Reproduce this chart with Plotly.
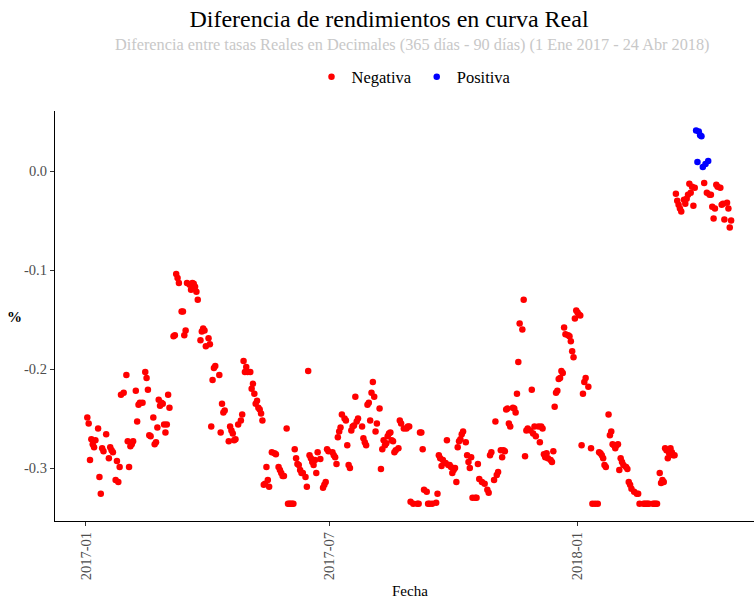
import plotly.graph_objects as go

# ---- data (month, day-of-month, spread in decimals) ----
meses = ["2017-01", "2017-02", "2017-03", "2017-04", "2017-05", "2017-06",
         "2017-07", "2017-08", "2017-09", "2017-10", "2017-11", "2017-12",
         "2018-01", "2018-02", "2018-03", "2018-04"]

dias = [
    [2, 3, 4, 5, 6, 7, 8, 10, 11, 12, 13, 14, 16, 18, 19, 20, 21, 23, 24, 25, 26, 27, 29, 31],
    [1, 2, 3, 4, 5, 7, 8, 9, 10, 12, 14, 15, 16, 17, 18, 20, 21, 22, 23, 24, 25, 26, 27, 28],
    [1, 2, 3, 4, 7, 8, 9, 10, 11, 13, 14, 15, 16, 17, 19, 20, 21, 22, 23, 24, 25, 27, 28, 29, 30, 31],
    [2, 3, 4, 5, 6, 7, 10, 11, 12, 13, 14, 17, 18, 19, 20, 21, 22, 24, 26, 27, 28, 29, 30],
    [1, 3, 4, 5, 6, 7, 8, 9, 10, 11, 12, 13, 14, 15, 16, 17, 19, 21, 22, 24, 25, 26, 27, 28, 30, 31],
    [1, 2, 3, 4, 5, 6, 7, 8, 9, 10, 11, 13, 14, 15, 16, 17, 18, 19, 20, 21, 22, 24, 26, 27, 28, 29, 30],
    [3, 4, 5, 6, 7, 8, 9, 10, 12, 13, 14, 15, 16, 17, 18, 19, 20, 21, 22, 25, 26, 27, 28, 29, 30, 31],
    [1, 2, 3, 4, 5, 7, 8, 9, 10, 11, 12, 13, 14, 15, 16, 17, 18, 19, 21, 22, 23, 25, 27, 28, 29, 30],
    [1, 4, 5, 6, 7, 8, 9, 11, 12, 13, 15, 18, 19, 20, 21, 22, 23, 25, 26, 27, 28, 29, 30],
    [1, 2, 3, 4, 5, 6, 7, 8, 10, 11, 12, 13, 14, 15, 17, 18, 19, 20, 22, 24, 26, 27, 28, 29, 31],
    [1, 2, 3, 5, 6, 7, 8, 9, 10, 11, 12, 14, 15, 16, 17, 18, 19, 21, 22, 23, 24, 25, 27, 28, 29, 30],
    [1, 3, 4, 5, 6, 7, 8, 9, 10, 12, 13, 14, 15, 16, 17, 18, 19, 20, 21, 22, 23, 25, 26, 27, 28, 29, 30, 31],
    [1, 2, 3, 4, 5, 6, 7, 9, 11, 12, 14, 16, 17, 18, 19, 20, 21, 22, 24, 25, 26, 27, 28, 29, 30, 31],
    [1, 2, 3, 4, 6, 7, 8, 9, 10, 12, 14, 15, 16, 19, 20, 21, 22, 23, 26, 27, 28],
    [1, 3, 4, 5, 6, 7, 8, 9, 10, 11, 12, 13, 14, 15, 16, 17, 18, 19, 21, 22, 23, 24, 25, 26, 27, 28, 29, 30, 31],
    [1, 2, 3, 4, 5, 6, 7, 8, 9, 10, 11, 12, 13, 14, 15, 17, 18, 19, 20, 22, 23, 24, 25],
]

valores = [
    [-0.249, -0.255, -0.292, -0.271, -0.276, -0.279, -0.272, -0.260, -0.309, -0.326, -0.280, -0.283,
     -0.266, -0.290, -0.279, -0.282, -0.284, -0.312, -0.293, -0.314, -0.299, -0.226, -0.224, -0.206],
    [-0.273, -0.299, -0.278, -0.276, -0.273, -0.222, -0.253, -0.236, -0.234, -0.234, -0.203, -0.209,
     -0.221, -0.267, -0.268, -0.249, -0.276, -0.274, -0.259, -0.231, -0.237, -0.234, -0.235, -0.256],
    [-0.264, -0.256, -0.226, -0.239, -0.167, -0.166, -0.104, -0.108, -0.113, -0.142, -0.142, -0.166,
     -0.161, -0.113, -0.115, -0.120, -0.113, -0.114, -0.117, -0.122, -0.130, -0.171, -0.162, -0.159,
     -0.161, -0.177],
    [-0.169, -0.175, -0.258, -0.211, -0.199, -0.197, -0.206, -0.264, -0.235, -0.244, -0.242, -0.273,
     -0.258, -0.262, -0.265, -0.272, -0.271, -0.256, -0.252, -0.246, -0.192, -0.203, -0.198],
    [-0.203, -0.203, -0.220, -0.215, -0.225, -0.235, -0.232, -0.239, -0.241, -0.245, -0.252, -0.317,
     -0.316, -0.299, -0.312, -0.319, -0.284, -0.285, -0.286, -0.299, -0.302, -0.305, -0.308, -0.308,
     -0.260, -0.336],
    [-0.336, -0.336, -0.336, -0.336, -0.281, -0.290, -0.296, -0.297, -0.302, -0.305, -0.305, -0.309,
     -0.319, -0.202, -0.287, -0.290, -0.294, -0.297, -0.292, -0.305, -0.284, -0.291, -0.320, -0.317,
     -0.314, -0.281, -0.283],
    [-0.284, -0.287, -0.289, -0.296, -0.269, -0.263, -0.259, -0.246, -0.250, -0.252, -0.277, -0.297,
     -0.300, -0.262, -0.258, -0.257, -0.228, -0.253, -0.250, -0.258, -0.270, -0.274, -0.277, -0.236,
     -0.234, -0.252],
    [-0.224, -0.213, -0.228, -0.263, -0.255, -0.240, -0.301, -0.281, -0.272, -0.277, -0.275, -0.268,
     -0.265, -0.264, -0.272, -0.273, -0.284, -0.282, -0.280, -0.252, -0.255, -0.260, -0.260, -0.258,
     -0.258, -0.334],
    [-0.336, -0.336, -0.336, -0.264, -0.264, -0.281, -0.322, -0.324, -0.336, -0.336, -0.336, -0.335,
     -0.326, -0.287, -0.290, -0.298, -0.292, -0.295, -0.272, -0.297, -0.297, -0.299, -0.305],
    [-0.302, -0.300, -0.314, -0.279, -0.273, -0.271, -0.266, -0.263, -0.274, -0.287, -0.294, -0.300,
     -0.289, -0.330, -0.330, -0.330, -0.296, -0.311, -0.314, -0.316, -0.322, -0.325, -0.287, -0.284,
     -0.312],
    [-0.253, -0.307, -0.304, -0.282, -0.289, -0.282, -0.283, -0.241, -0.240, -0.255, -0.258, -0.239,
     -0.240, -0.244, -0.225, -0.193, -0.154, -0.160, -0.130, -0.288, -0.262, -0.260, -0.262, -0.221,
     -0.265, -0.258],
    [-0.268, -0.258, -0.274, -0.258, -0.260, -0.286, -0.289, -0.285, -0.290, -0.292, -0.294, -0.283,
     -0.238, -0.224, -0.222, -0.210, -0.209, -0.202, -0.204, -0.158, -0.165, -0.166, -0.167, -0.172,
     -0.182, -0.188, -0.149, -0.141],
    [-0.143, -0.145, -0.146, -0.277, -0.225, -0.213, -0.209, -0.218, -0.280, -0.336, -0.336, -0.336,
     -0.284, -0.285, -0.287, -0.290, -0.297, -0.299, -0.246, -0.267, -0.263, -0.276, -0.277, -0.280,
     -0.277, -0.276],
    [-0.302, -0.290, -0.294, -0.297, -0.299, -0.301, -0.314, -0.317, -0.321, -0.324, -0.326, -0.326,
     -0.336, -0.336, -0.336, -0.336, -0.336, -0.336, -0.336, -0.336, -0.336],
    [-0.336, -0.305, -0.315, -0.312, -0.314, -0.280, -0.282, -0.290, -0.285, -0.280, -0.284, -0.287,
     -0.287, -0.023, -0.030, -0.034, -0.038, -0.041, -0.029, -0.033, -0.028, -0.024, -0.013, -0.022,
     -0.016, -0.035, -0.017, 0.041, 0.009],
    [0.040, 0.036, 0.035, 0.004, -0.012, 0.007, -0.022, 0.010, -0.024, -0.024, -0.036, -0.048,
     -0.038, -0.014, -0.016, -0.017, -0.034, -0.033, -0.049, -0.032, -0.038, -0.057, -0.050],
]

categorias = ["Negativa", "Positiva"]
colores = ["#FF0000", "#0000FF"]

x_ticks = ["2017-01-01", "2017-07-01", "2018-01-01"]
x_tick_labels = ["2017-01", "2017-07", "2018-01"]
y_ticks = [-0.3, -0.2, -0.1, 0.0]
y_tick_labels = ["-0.3", "-0.2", "-0.1", "0.0"]

# ---- build series ----
fechas, difs = [], []
for mes, ds, vs in zip(meses, dias, valores):
    for d, v in zip(ds, vs):
        fechas.append(f"{mes}-{d:02d}")
        difs.append(v)

series = {c: ([], []) for c in categorias}
for f, v in zip(fechas, difs):
    c = "Positiva" if v >= 0 else "Negativa"
    series[c][0].append(f)
    series[c][1].append(v)

FONT = "Liberation Serif, Times New Roman, serif"

fig = go.Figure()
for c, col in zip(categorias, colores):
    fig.add_trace(go.Scatter(
        x=series[c][0], y=series[c][1], mode="markers", name=c,
        marker=dict(color=col, size=6.5, line=dict(width=0)),
    ))

W, H = 754, 601
L, R, T, B = 55, 0, 111, 80
ph = H - T - B


def py(p):
    return (H - B - p) / ph


def px(p):
    return (p - L) / (W - L - R)


fig.update_layout(
    width=W, height=H,
    margin=dict(l=L, r=R, t=T, b=B),
    paper_bgcolor="white", plot_bgcolor="white",
    font=dict(family=FONT, color="black"),
    title=dict(text="Diferencia de rendimientos en curva Real",
               x=389 / W, xanchor="center", y=1 - 19 / H, yanchor="middle",
               font=dict(size=24, color="black", family=FONT)),
    showlegend=True,
    legend=dict(orientation="h", x=px(414), xanchor="center", y=py(77), yanchor="middle",
                font=dict(size=16.5, family=FONT, color="black"), bgcolor="rgba(0,0,0,0)",
                itemsizing="trace", itemwidth=30),
    xaxis=dict(type="date", range=["2016-12-09", "2018-05-12"],
               showline=True, linecolor="black", linewidth=1.2, mirror=False,
               ticks="outside", ticklen=4, tickcolor="#333333", tickwidth=1,
               tickvals=x_ticks, ticktext=x_tick_labels, tickangle=-90,
               tickfont=dict(size=14.5, color="#4D4D4D", family=FONT),
               showgrid=False, zeroline=False),
    yaxis=dict(range=[-0.3535, 0.0606],
               showline=True, linecolor="black", linewidth=1.2,
               ticks="outside", ticklen=4, tickcolor="#333333", tickwidth=1,
               tickvals=y_ticks, ticktext=y_tick_labels,
               tickfont=dict(size=14.5, color="#4D4D4D", family=FONT),
               showgrid=False, zeroline=False),
    annotations=[
        dict(text="Diferencia entre tasas Reales en Decimales (365 días - 90 días) (1 Ene 2017 - 24 Abr 2018)",
             xref="paper", yref="paper", x=px(413), y=py(44), xanchor="center", yanchor="middle",
             showarrow=False, font=dict(size=16.3, color="#C8C8C8", family=FONT)),
        dict(text="<b>%</b>", xref="paper", yref="paper", x=px(14), y=py(317),
             xanchor="center", yanchor="middle", showarrow=False,
             font=dict(size=15, color="black", family=FONT)),
        dict(text="Fecha", xref="paper", yref="paper", x=px(410), y=py(591),
             xanchor="center", yanchor="middle", showarrow=False,
             font=dict(size=15, color="black", family=FONT)),
    ],
)

fig.write_html("out.html", config={"displayModeBar": False},
               post_script="document.body.style.margin='0px';")
